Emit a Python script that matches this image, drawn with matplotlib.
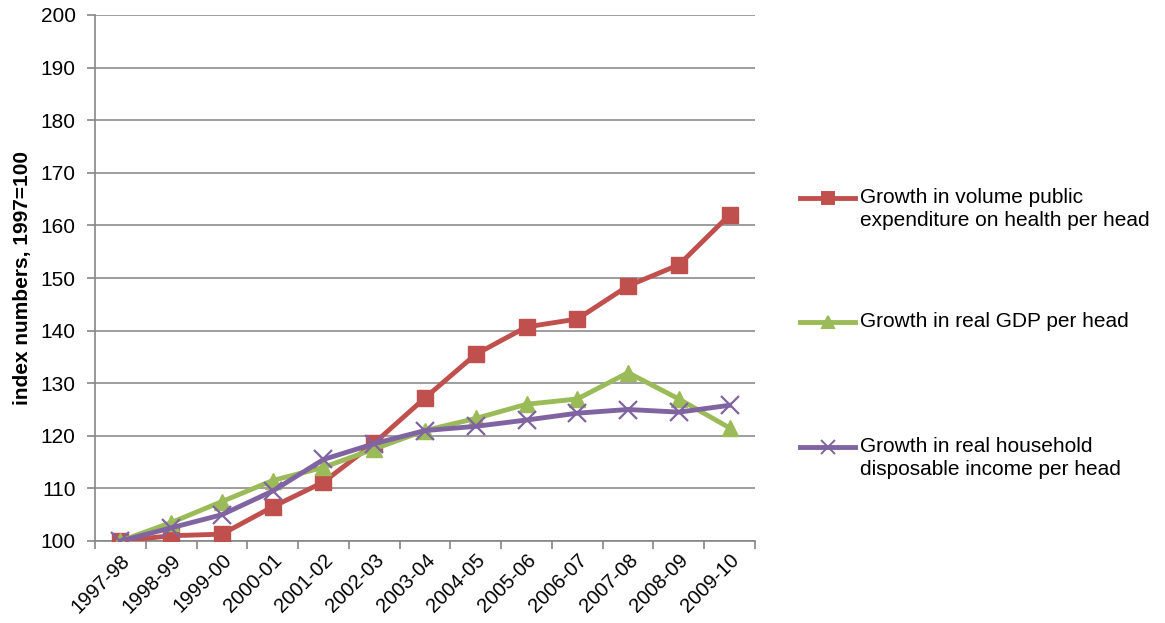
import matplotlib.pyplot as plt
from matplotlib.lines import Line2D

plt.rcParams['font.family'] = ['Liberation Sans', 'DejaVu Sans']

years = ['1997-98', '1998-99', '1999-00', '2000-01', '2001-02', '2002-03', '2003-04',
         '2004-05', '2005-06', '2006-07', '2007-08', '2008-09', '2009-10']
health = [100, 101.0, 101.3, 106.5, 111.2, 118.6, 127.2, 135.5, 140.7, 142.2, 148.5, 152.5, 162.0]
gdp = [100, 103.5, 107.5, 111.5, 114.0, 117.5, 121.0, 123.3, 126.0, 127.0, 132.0, 127.0, 121.5]
income = [100, 102.5, 105.0, 109.5, 115.5, 118.5, 121.0, 121.8, 123.0, 124.3, 125.0, 124.5, 125.8]

labels = ['Growth in volume public\nexpenditure on health per head',
          'Growth in real GDP per head',
          'Growth in real household\ndisposable income per head']
colors = ['#C0504D', '#9BBB59', '#8064A2']
markers = ['s', '^', 'x']

fig = plt.figure(figsize=(11.65, 6.23), dpi=100)
ax = fig.add_axes([95/1165, 1-541/623, 660/1165, 526/623])

x = list(range(len(years)))
for vals, c, m in zip([health, gdp, income], colors, markers):
    if m == 'x':
        ax.plot(x, vals, color=c, lw=3.5, marker=m, ms=13, mew=1.6, zorder=3)
    else:
        ax.plot(x, vals, color=c, lw=3.5, marker=m, ms=12, zorder=3)

ax.set_ylim(100, 200)
ax.set_yticks(range(100, 201, 10))
ax.set_xlim(-0.5, len(years) - 0.5)
ax.set_xticks(x)
ax.set_xticklabels(years, rotation=45, ha='right', rotation_mode='anchor')
ax.set_xticks([i - 0.5 for i in range(len(years) + 1)], minor=True)
ax.tick_params(axis='x', which='major', length=0, pad=7, labelsize=14.5)
ax.tick_params(axis='x', which='minor', length=6, color='#868686', width=1.2)
ax.tick_params(axis='y', length=6, color='#868686', width=1.2, labelsize=15, pad=8)
ax.grid(axis='y', color='#8C8C8C', lw=1.2)
ax.set_axisbelow(True)
for s in ['top', 'right']:
    ax.spines[s].set_visible(False)
for s in ['left', 'bottom']:
    ax.spines[s].set_color('#868686')
    ax.spines[s].set_linewidth(1.2)
ax.set_ylabel('index numbers, 1997=100', fontsize=15, fontweight='bold', labelpad=6)

# legend drawn at the right, handle aligned with first text line
leg_y = [198, 322, 447]
for lab, c, m, yy in zip(labels, colors, markers, leg_y):
    fy = 1 - yy / 623
    fig.add_artist(Line2D([800/1165, 855/1165], [fy, fy], color=c, lw=3.5,
                          transform=fig.transFigure))
    fig.add_artist(Line2D([827.5/1165], [fy], color=c, marker=m, ms=9 if m != 'x' else 10,
                          mew=1.4, transform=fig.transFigure))
    fig.text(860/1165, fy + 10/623, lab, fontsize=15, va='top', ha='left',
             linespacing=1.25)

fig.savefig('out.png', dpi=100)
